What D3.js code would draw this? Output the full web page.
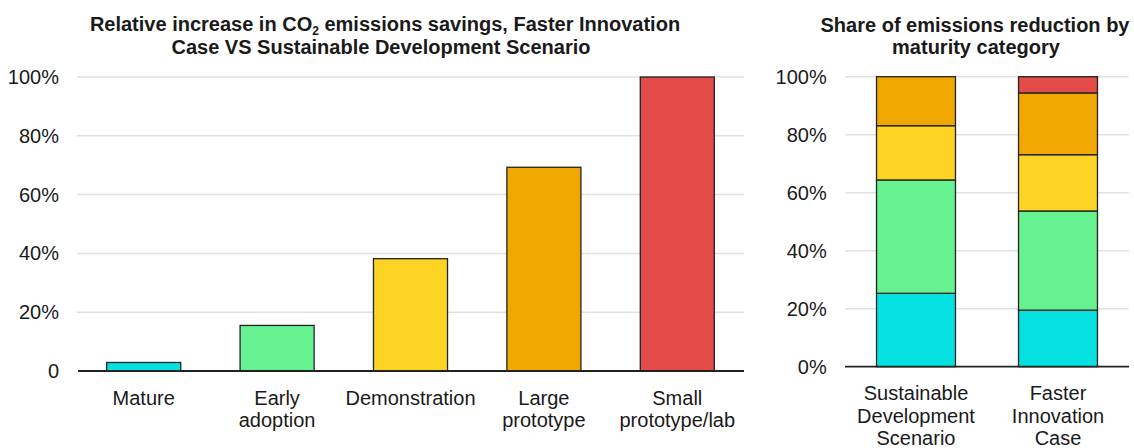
<!DOCTYPE html>
<html>
<head>
<meta charset="utf-8">
<script src="https://cdn.jsdelivr.net/npm/d3@7"></script>
<style>
  body { margin: 0; background: #fff; }
  text { font-family: Arial, "Liberation Sans", sans-serif; fill: #1a1a1a; }
</style>
</head>
<body>
<script>
// Maturity categories (left chart x axis and stack order, bottom to top)
var categories = ["Mature", "Early adoption", "Demonstration", "Large prototype", "Small prototype/lab"];
var categoryLabels = [["Mature"], ["Early", "adoption"], ["Demonstration"], ["Large", "prototype"], ["Small", "prototype/lab"]];
var colors = ["#05e1e1", "#67f291", "#fdd423", "#f0a800", "#e34b48"];

// Left chart: relative increase in CO2 savings (FIC vs SDS)
var relativeIncrease = [0.029, 0.155, 0.382, 0.693, 1.0];

// Right chart: share of emissions reduction by maturity category
var scenarios = ["Sustainable Development Scenario", "Faster Innovation Case"];
var scenarioLabels = [["Sustainable", "Development", "Scenario"], ["Faster", "Innovation", "Case"]];
var shareSDS = [0.253, 0.391, 0.187, 0.169, 0.0];
var shareFIC = [0.195, 0.342, 0.194, 0.213, 0.056];

var leftTicks = [0, 0.2, 0.4, 0.6, 0.8, 1.0];
var rightTicks = [0, 0.2, 0.4, 0.6, 0.8, 1.0];

var width = 1134, height = 448;
var fontSize = "20px";
var svg = d3.select("body").append("svg")
    .attr("width", width)
    .attr("height", height);

var pct = function(d) { return d === 0 ? "0" : Math.round(d * 100) + "%"; };

// ---------- Left chart ----------
var x1 = d3.scaleBand()
    .domain(categories)
    .range([77, 744])
    .paddingInner(0.445)
    .paddingOuter(0.2225);

var y1 = d3.scaleLinear().domain([0, 1]).range([371, 77]);

var left = svg.append("g");

// gridlines
left.selectAll("line.grid")
    .data(leftTicks.filter(function(d) { return d > 0; }))
    .enter().append("line")
    .attr("class", "grid")
    .attr("x1", 77).attr("x2", 744)
    .attr("y1", function(d) { return y1(d); })
    .attr("y2", function(d) { return y1(d); })
    .attr("stroke", "#e2e2e2")
    .attr("stroke-width", 1.5);

// y axis labels
var yAxis1 = d3.axisLeft(y1).tickValues(leftTicks).tickFormat(pct).tickSize(0).tickPadding(0);
left.append("g")
    .attr("transform", "translate(59,0)")
    .call(yAxis1)
    .call(function(g) { g.select(".domain").remove(); })
    .selectAll("text")
    .style("font-size", fontSize)
    .attr("fill", "#1a1a1a");

// bars
left.selectAll("rect.bar")
    .data(relativeIncrease)
    .enter().append("rect")
    .attr("class", "bar")
    .attr("x", function(d, i) { return x1(categories[i]); })
    .attr("y", function(d) { return y1(d); })
    .attr("width", x1.bandwidth())
    .attr("height", function(d) { return y1(0) - y1(d); })
    .attr("fill", function(d, i) { return colors[i]; })
    .attr("stroke", "#222")
    .attr("stroke-width", 1.3);

// baseline
left.append("line")
    .attr("x1", 78).attr("x2", 744)
    .attr("y1", y1(0)).attr("y2", y1(0))
    .attr("stroke", "#222")
    .attr("stroke-width", 1.8);

// x labels
left.selectAll("text.xlab")
    .data(categoryLabels)
    .enter().append("text")
    .attr("class", "xlab")
    .attr("text-anchor", "middle")
    .style("font-size", fontSize)
    .attr("x", function(d, i) { return x1(categories[i]) + x1.bandwidth() / 2; })
    .attr("y", 405)
    .selectAll("tspan")
    .data(function(d) { return d; })
    .enter().append("tspan")
    .attr("x", function() { return d3.select(this.parentNode).attr("x"); })
    .attr("dy", function(d, i) { return i === 0 ? 0 : 22.4; })
    .text(function(d) { return d; });

// title (two lines)
var t1 = left.append("text")
    .attr("text-anchor", "middle")
    .attr("x", 385)
    .attr("y", 31)
    .style("font-size", fontSize)
    .style("font-weight", "bold");
t1.append("tspan").text("Relative increase in CO");
t1.append("tspan").attr("dy", 3.5).style("font-size", "12px").text("2");
t1.append("tspan").attr("dy", -3.5).text(" emissions savings, Faster Innovation");
left.append("text")
    .attr("text-anchor", "middle")
    .attr("x", 381)
    .attr("y", 53.5)
    .style("font-size", fontSize)
    .style("font-weight", "bold")
    .text("Case VS Sustainable Development Scenario");

// ---------- Right chart ----------
var x2 = d3.scaleBand()
    .domain(scenarios)
    .range([845, 1129])
    .paddingInner(0.444)
    .paddingOuter(0.222);

var y2 = d3.scaleLinear().domain([0, 1]).range([366.7, 76.7]);

var right = svg.append("g");

right.selectAll("line.grid")
    .data(rightTicks.filter(function(d) { return d > 0; }))
    .enter().append("line")
    .attr("class", "grid")
    .attr("x1", 845).attr("x2", 1129)
    .attr("y1", function(d) { return y2(d); })
    .attr("y2", function(d) { return y2(d); })
    .attr("stroke", "#e2e2e2")
    .attr("stroke-width", 1.5);

var yAxis2 = d3.axisLeft(y2).tickValues(rightTicks).tickFormat(function(d) { return Math.round(d * 100) + "%"; })
    .tickSize(0).tickPadding(0);
right.append("g")
    .attr("transform", "translate(826.7,0)")
    .call(yAxis2)
    .call(function(g) { g.select(".domain").remove(); })
    .selectAll("text")
    .style("font-size", fontSize)
    .attr("fill", "#1a1a1a");

// stacked bars
var rows = scenarios.map(function(s, i) {
    var vals = i === 0 ? shareSDS : shareFIC;
    var row = { scenario: s };
    categories.forEach(function(c, j) { row[c] = vals[j]; });
    return row;
});
var stack = d3.stack().keys(categories)(rows);

right.selectAll("g.layer")
    .data(stack)
    .enter().append("g")
    .attr("class", "layer")
    .attr("fill", function(d, i) { return colors[i]; })
    .selectAll("rect")
    .data(function(d) { return d.filter(function(p) { return p[1] - p[0] > 0; }); })
    .enter().append("rect")
    .attr("x", function(d) { return x2(d.data.scenario); })
    .attr("y", function(d) { return y2(d[1]); })
    .attr("width", x2.bandwidth())
    .attr("height", function(d) { return y2(d[0]) - y2(d[1]); })
    .attr("stroke", "#222")
    .attr("stroke-width", 1.3);

right.append("line")
    .attr("x1", 845).attr("x2", 1129)
    .attr("y1", y2(0)).attr("y2", y2(0))
    .attr("stroke", "#222")
    .attr("stroke-width", 1.8);

right.selectAll("text.xlab")
    .data(scenarioLabels)
    .enter().append("text")
    .attr("class", "xlab")
    .attr("text-anchor", "middle")
    .style("font-size", fontSize)
    .attr("x", function(d, i) { return x2(scenarios[i]) + x2.bandwidth() / 2; })
    .attr("y", 400)
    .selectAll("tspan")
    .data(function(d) { return d; })
    .enter().append("tspan")
    .attr("x", function() { return d3.select(this.parentNode).attr("x"); })
    .attr("dy", function(d, i) { return i === 0 ? 0 : 22.5; })
    .text(function(d) { return d; });

right.append("text")
    .attr("text-anchor", "middle")
    .attr("x", 975)
    .attr("y", 31.7)
    .style("font-size", fontSize)
    .style("font-weight", "bold")
    .text("Share of emissions reduction by");
right.append("text")
    .attr("text-anchor", "middle")
    .attr("x", 976)
    .attr("y", 54.3)
    .style("font-size", fontSize)
    .style("font-weight", "bold")
    .text("maturity category");
</script>
</body>
</html>
